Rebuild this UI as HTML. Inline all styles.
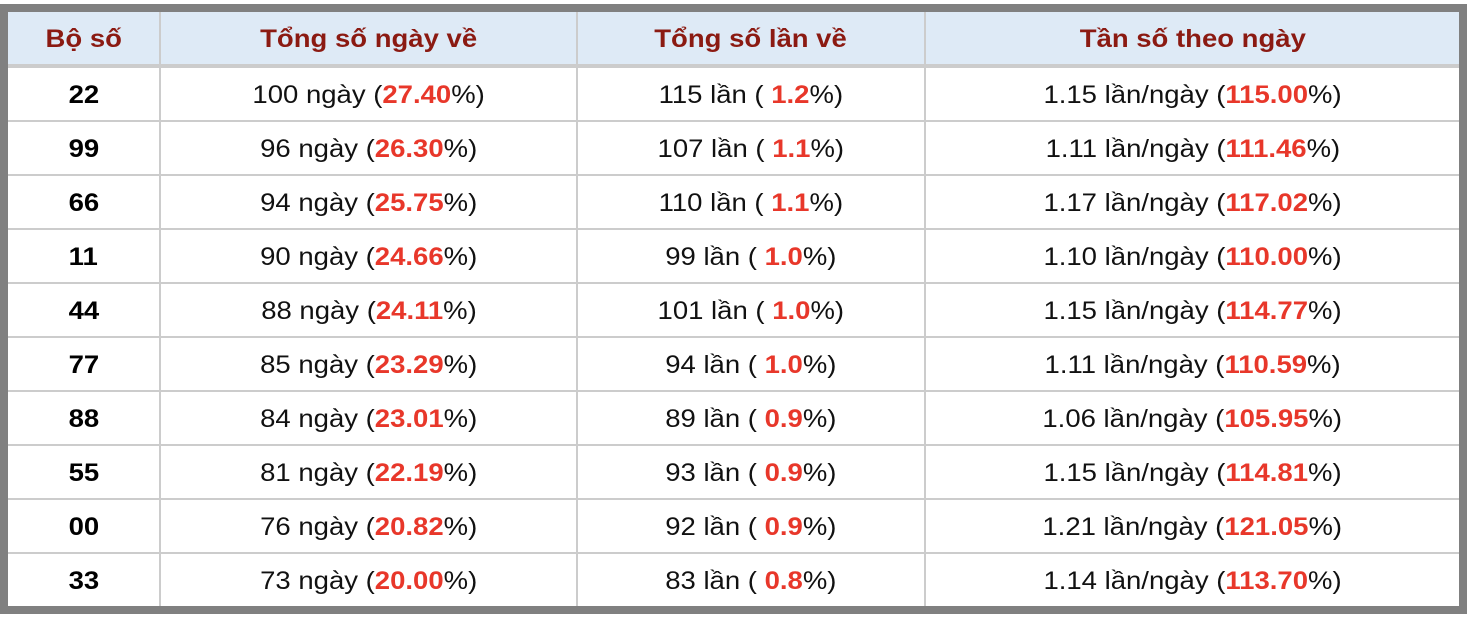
<!DOCTYPE html>
<html>
<head>
<meta charset="utf-8">
<style>
  html, body { margin:0; padding:0; background:#ffffff; }
  body { width:1470px; height:618px; position:relative; overflow:hidden;
         font-family:"Liberation Sans", Arial, Helvetica, sans-serif; }
  .outer { position:absolute; left:0; top:4px; width:1467px; height:610px; background:#808080; }
  .grid { position:absolute; left:8px; top:12px; width:1451px; height:594px; background:#cccccc; }
  .c { position:absolute; display:flex; align-items:center; justify-content:center;
       background:#ffffff; font-size:25px; color:#111; white-space:nowrap; box-sizing:border-box; padding-top:2px; }
  .h { background:#deeaf6; color:#8b1a12; font-weight:bold; }
  .c span.t { display:inline-block; transform:scaleX(1.1); transform-origin:center; }
  .r { color:#e8372a; font-weight:bold; }
  .b { font-weight:bold; color:#000; }
</style>
</head>
<body>
<div class="outer"></div>
<div class="grid"></div>

<!-- header -->
<div class="c h" style="left:8px;top:12px;width:151px;height:52px;"><span class="t">Bộ số</span></div>
<div class="c h" style="left:161px;top:12px;width:415px;height:52px;"><span class="t">Tổng số ngày về</span></div>
<div class="c h" style="left:578px;top:12px;width:346px;height:52px;"><span class="t">Tổng số lần về</span></div>
<div class="c h" style="left:926px;top:12px;width:533px;height:52px;"><span class="t">Tần số theo ngày</span></div>

<!-- row 1 -->
<div class="c" style="left:8px;top:68px;width:151px;height:52px;"><span class="t b">22</span></div>
<div class="c" style="left:161px;top:68px;width:415px;height:52px;"><span class="t">100 ngày (<span class="r">27.40</span>%)</span></div>
<div class="c" style="left:578px;top:68px;width:346px;height:52px;"><span class="t">115 lần ( <span class="r">1.2</span>%)</span></div>
<div class="c" style="left:926px;top:68px;width:533px;height:52px;"><span class="t">1.15 lần/ngày (<span class="r">115.00</span>%)</span></div>

<!-- row 2 -->
<div class="c" style="left:8px;top:122px;width:151px;height:52px;"><span class="t b">99</span></div>
<div class="c" style="left:161px;top:122px;width:415px;height:52px;"><span class="t">96 ngày (<span class="r">26.30</span>%)</span></div>
<div class="c" style="left:578px;top:122px;width:346px;height:52px;"><span class="t">107 lần ( <span class="r">1.1</span>%)</span></div>
<div class="c" style="left:926px;top:122px;width:533px;height:52px;"><span class="t">1.11 lần/ngày (<span class="r">111.46</span>%)</span></div>

<!-- row 3 -->
<div class="c" style="left:8px;top:176px;width:151px;height:52px;"><span class="t b">66</span></div>
<div class="c" style="left:161px;top:176px;width:415px;height:52px;"><span class="t">94 ngày (<span class="r">25.75</span>%)</span></div>
<div class="c" style="left:578px;top:176px;width:346px;height:52px;"><span class="t">110 lần ( <span class="r">1.1</span>%)</span></div>
<div class="c" style="left:926px;top:176px;width:533px;height:52px;"><span class="t">1.17 lần/ngày (<span class="r">117.02</span>%)</span></div>

<!-- row 4 -->
<div class="c" style="left:8px;top:230px;width:151px;height:52px;"><span class="t b">11</span></div>
<div class="c" style="left:161px;top:230px;width:415px;height:52px;"><span class="t">90 ngày (<span class="r">24.66</span>%)</span></div>
<div class="c" style="left:578px;top:230px;width:346px;height:52px;"><span class="t">99 lần ( <span class="r">1.0</span>%)</span></div>
<div class="c" style="left:926px;top:230px;width:533px;height:52px;"><span class="t">1.10 lần/ngày (<span class="r">110.00</span>%)</span></div>

<!-- row 5 -->
<div class="c" style="left:8px;top:284px;width:151px;height:52px;"><span class="t b">44</span></div>
<div class="c" style="left:161px;top:284px;width:415px;height:52px;"><span class="t">88 ngày (<span class="r">24.11</span>%)</span></div>
<div class="c" style="left:578px;top:284px;width:346px;height:52px;"><span class="t">101 lần ( <span class="r">1.0</span>%)</span></div>
<div class="c" style="left:926px;top:284px;width:533px;height:52px;"><span class="t">1.15 lần/ngày (<span class="r">114.77</span>%)</span></div>

<!-- row 6 -->
<div class="c" style="left:8px;top:338px;width:151px;height:52px;"><span class="t b">77</span></div>
<div class="c" style="left:161px;top:338px;width:415px;height:52px;"><span class="t">85 ngày (<span class="r">23.29</span>%)</span></div>
<div class="c" style="left:578px;top:338px;width:346px;height:52px;"><span class="t">94 lần ( <span class="r">1.0</span>%)</span></div>
<div class="c" style="left:926px;top:338px;width:533px;height:52px;"><span class="t">1.11 lần/ngày (<span class="r">110.59</span>%)</span></div>

<!-- row 7 -->
<div class="c" style="left:8px;top:392px;width:151px;height:52px;"><span class="t b">88</span></div>
<div class="c" style="left:161px;top:392px;width:415px;height:52px;"><span class="t">84 ngày (<span class="r">23.01</span>%)</span></div>
<div class="c" style="left:578px;top:392px;width:346px;height:52px;"><span class="t">89 lần ( <span class="r">0.9</span>%)</span></div>
<div class="c" style="left:926px;top:392px;width:533px;height:52px;"><span class="t">1.06 lần/ngày (<span class="r">105.95</span>%)</span></div>

<!-- row 8 -->
<div class="c" style="left:8px;top:446px;width:151px;height:52px;"><span class="t b">55</span></div>
<div class="c" style="left:161px;top:446px;width:415px;height:52px;"><span class="t">81 ngày (<span class="r">22.19</span>%)</span></div>
<div class="c" style="left:578px;top:446px;width:346px;height:52px;"><span class="t">93 lần ( <span class="r">0.9</span>%)</span></div>
<div class="c" style="left:926px;top:446px;width:533px;height:52px;"><span class="t">1.15 lần/ngày (<span class="r">114.81</span>%)</span></div>

<!-- row 9 -->
<div class="c" style="left:8px;top:500px;width:151px;height:52px;"><span class="t b">00</span></div>
<div class="c" style="left:161px;top:500px;width:415px;height:52px;"><span class="t">76 ngày (<span class="r">20.82</span>%)</span></div>
<div class="c" style="left:578px;top:500px;width:346px;height:52px;"><span class="t">92 lần ( <span class="r">0.9</span>%)</span></div>
<div class="c" style="left:926px;top:500px;width:533px;height:52px;"><span class="t">1.21 lần/ngày (<span class="r">121.05</span>%)</span></div>

<!-- row 10 -->
<div class="c" style="left:8px;top:554px;width:151px;height:52px;"><span class="t b">33</span></div>
<div class="c" style="left:161px;top:554px;width:415px;height:52px;"><span class="t">73 ngày (<span class="r">20.00</span>%)</span></div>
<div class="c" style="left:578px;top:554px;width:346px;height:52px;"><span class="t">83 lần ( <span class="r">0.8</span>%)</span></div>
<div class="c" style="left:926px;top:554px;width:533px;height:52px;"><span class="t">1.14 lần/ngày (<span class="r">113.70</span>%)</span></div>

</body>
</html>
